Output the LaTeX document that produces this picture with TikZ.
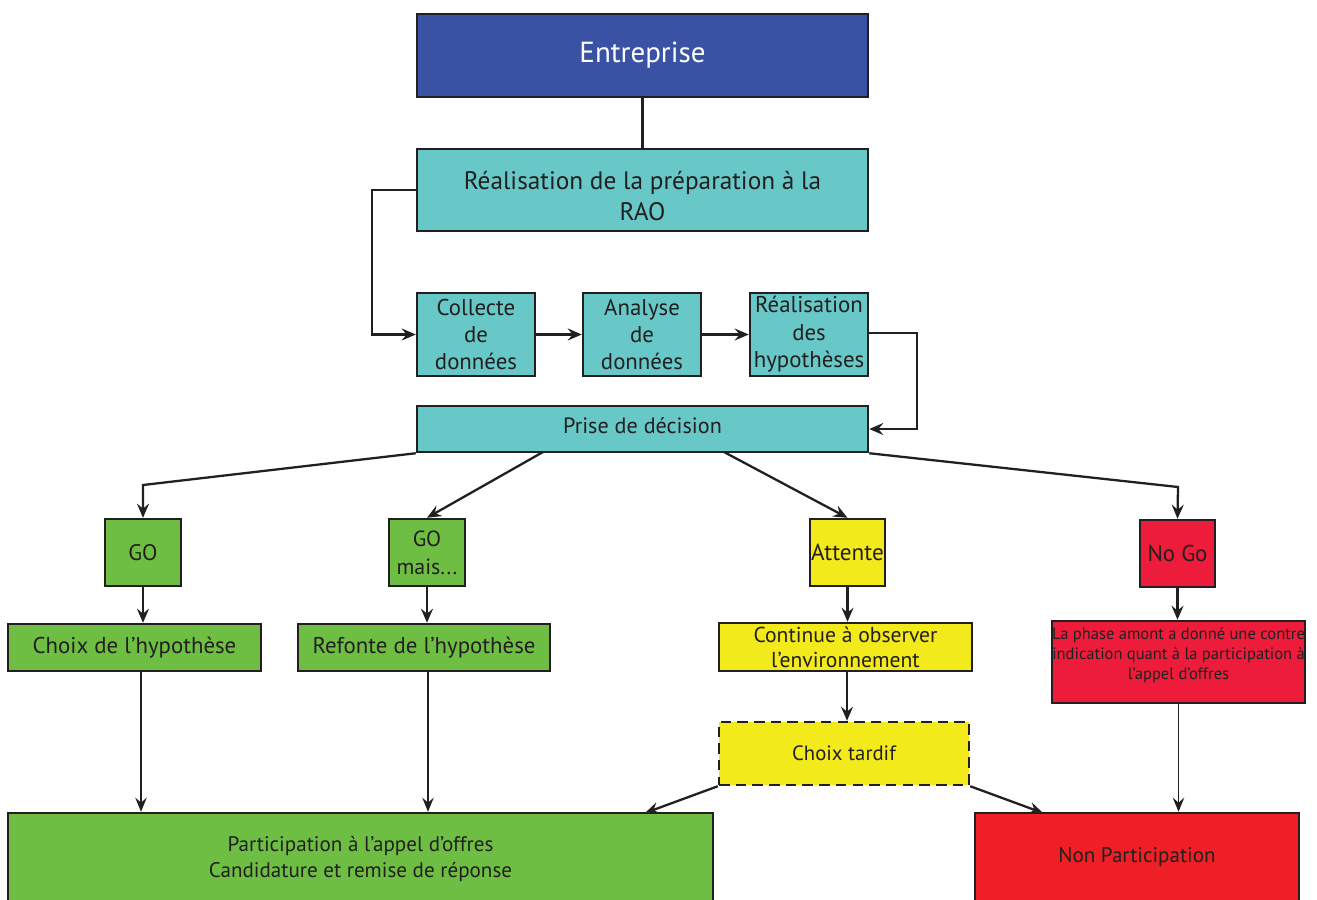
\documentclass[tikz,border=0pt]{standalone}
\usepackage{fontspec}
\setmainfont{PT Sans}
\usetikzlibrary{arrows.meta,calc}
\definecolor{ink}{HTML}{231F20}
\definecolor{cblue}{HTML}{3A52A4}
\definecolor{cteal}{HTML}{67C8C7}
\definecolor{cgreen}{HTML}{6FBE44}
\definecolor{cyellow}{HTML}{F2EA1B}
\definecolor{cred}{HTML}{EC1C3A}
\definecolor{cred2}{HTML}{EE1F25}
\tikzset{
  box/.style={draw=ink, line width=1.4pt, inner sep=0pt, align=center, text=ink},
  conn/.style={draw=ink, line width=1.3pt},
  arr/.style={conn, -{Stealth[length=8pt,width=6.8pt,inset=2.8pt]}},
  thinarr/.style={draw=ink, line width=1pt, -{Stealth[length=8pt,width=6.5pt,inset=2.8pt]}},
}
\begin{document}
\begin{tikzpicture}[x=0.02cm,y=-0.02cm]
\useasboundingbox (0,0) rectangle (1317,899);
\clip (0,0) rectangle (1317,899);
\fill[white] (0,0) rectangle (1317,899);
% top
\node[box, fill=cblue, text=white, minimum width=451*0.02cm, minimum height=83*0.02cm, font=\fontsize{16.5pt}{19pt}\selectfont] (ent) at (642.5,55.5) {Entreprise};
\node[box, fill=cteal, minimum width=451*0.02cm, minimum height=82*0.02cm, font=\fontsize{14.4pt}{17.6pt}\selectfont] (rao) at (642.5,190) {\rule{0pt}{17.5pt}Réalisation de la préparation à la\\RAO};
\node[box, fill=cteal, minimum width=118*0.02cm, minimum height=83*0.02cm, font=\fontsize{13pt}{15.6pt}\selectfont] (col) at (476,334.5) {Collecte\\de\\données};
\node[box, fill=cteal, minimum width=118*0.02cm, minimum height=83*0.02cm, font=\fontsize{13pt}{15.6pt}\selectfont] (ana) at (642,334.5) {Analyse\\de\\données};
\node[box, fill=cteal, minimum width=118*0.02cm, minimum height=83*0.02cm, font=\fontsize{13pt}{15.6pt}\selectfont] (hyp) at (809,334.5) {Réalisation\\des\\hypothèses};
\node[box, fill=cteal, minimum width=451*0.02cm, minimum height=46*0.02cm, font=\fontsize{12.6pt}{14pt}\selectfont] (pri) at (642.5,429) {Prise de décision\rule[-4.5pt]{0pt}{0pt}};
% decisions
\node[box, fill=cgreen, minimum width=76*0.02cm, minimum height=67*0.02cm, font=\fontsize{12.8pt}{15.9pt}\selectfont] (go) at (143,552.5) {GO};
\node[box, fill=cgreen, minimum width=76*0.02cm, minimum height=67*0.02cm, font=\fontsize{12.5pt}{15.9pt}\selectfont] (gom) at (427,552.5) {GO\\mais...};
\node[box, fill=cyellow, minimum width=75*0.02cm, minimum height=67*0.02cm, font=\fontsize{13.2pt}{15pt}\selectfont] (att) at (847.5,552.5) {Attente};
\node[box, fill=cred, minimum width=75*0.02cm, minimum height=67*0.02cm, font=\fontsize{13pt}{15pt}\selectfont] (nogo) at (1177.5,553.5) {No Go};
% second row
\node[box, fill=cgreen, minimum width=253*0.02cm, minimum height=47*0.02cm, font=\fontsize{13pt}{15pt}\selectfont] (choix) at (134.5,647.5) {Choix de l’hypothèse};
\node[box, fill=cgreen, minimum width=252*0.02cm, minimum height=47*0.02cm, font=\fontsize{13pt}{15pt}\selectfont] (ref) at (424,647.5) {Refonte de l’hypothèse};
\node[box, fill=cyellow, minimum width=253*0.02cm, minimum height=48*0.02cm, font=\fontsize{12.3pt}{14.2pt}\selectfont] (cont) at (845.5,647) {Continue à observer\\l’environnement};
\node[box, fill=cred, minimum width=253*0.02cm, minimum height=82*0.02cm, font=\fontsize{9.4pt}{11.3pt}\selectfont] (phase) at (1178.5,662) {La phase amont a donné une contre\\indication quant à la participation à\\l’appel d’offres\rule[-9.3pt]{0pt}{0pt}};
\node[box, fill=cyellow, dash pattern=on 6pt off 3.5pt, minimum width=250*0.02cm, minimum height=63*0.02cm, font=\fontsize{11.8pt}{14pt}\selectfont] (tard) at (844,753.5) {Choix tardif};
% bottom
\node[box, fill=cgreen, minimum width=705*0.02cm, minimum height=92*0.02cm, font=\fontsize{12pt}{14.7pt}\selectfont] (part) at (360.5,859) {Participation à l’appel d’offres\\Candidature et remise de réponse};
\node[box, fill=cred2, minimum width=324*0.02cm, minimum height=88*0.02cm, font=\fontsize{12pt}{14pt}\selectfont] (nonp) at (1137,857) {Non Participation};
% coordinates
\coordinate (c1) at (372,190);
\coordinate (c2) at (917,333);
\coordinate (p1) at (143,485);
\coordinate (p2) at (543,452);
\coordinate (p3) at (724,452);
\coordinate (p4) at (1178,487);
\coordinate (t1) at (645,813);
\coordinate (t2) at (1043,813);
% connectors
\draw[conn] (ent.south) -- (rao.north);
\draw[arr] (rao.west) -- (c1) |- (col.west);
\draw[arr] (col.east) -- (ana.west);
\draw[arr] (ana.east) -- (hyp.west);
\draw[arr] (hyp.east |- c2) -- (c2) |- (pri.east);
\draw[arr] (pri.south west) -- (p1) -- (go.north);
\draw[arr] (p2) -- (gom.north);
\draw[arr] (p3) -- (att.north);
\draw[arr] (pri.south east) -- (p4) -- (nogo.north);
\draw[arr] (go.south) -- (go.south |- choix.north);
\draw[arr] (gom.south) -- (gom.south |- ref.north);
\draw[arr] (att.south) -- (att.south |- cont.north);
\draw[arr] (nogo.south) -- (nogo.south |- phase.north);
\draw[thinarr] ([xshift=6.5*0.02cm]choix.south) -- ([xshift=6.5*0.02cm]choix.south |- part.north);
\draw[thinarr] ([xshift=4*0.02cm]ref.south) -- ([xshift=4*0.02cm]ref.south |- part.north);
\draw[arr] ([xshift=1.5*0.02cm]cont.south) -- ([xshift=1.5*0.02cm]cont.south |- tard.north);
\draw[thinarr] (phase.south) -- (phase.south |- nonp.north);
\draw[arr] (tard.south west) -- (t1);
\draw[arr] (tard.south east) -- (t2);
\end{tikzpicture}
\end{document}
